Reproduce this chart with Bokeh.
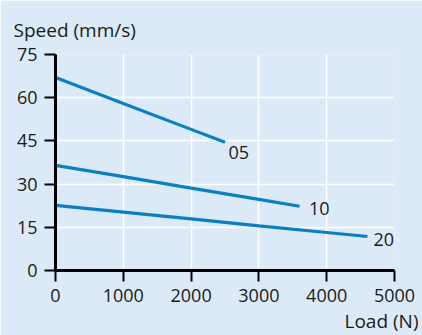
from bokeh.plotting import figure
from bokeh.models import FixedTicker, Range1d, ColumnDataSource, Title
from bokeh.core.properties import value
from bokeh.embed import file_html
from bokeh.resources import INLINE

# ---- data ----
load_05 = [0, 1000, 2000, 2500]
speed_05 = [67.0, 58.0, 49.0, 44.5]

load_10 = [0, 1000, 2000, 3000, 3600]
speed_10 = [36.5, 32.6, 28.6, 24.7, 22.3]

load_20 = [0, 1000, 2000, 3000, 4000, 4600]
speed_20 = [22.6, 20.3, 17.9, 15.5, 13.2, 11.8]

series_names = ["05", "10", "20"]
label_x = [2550, 3740, 4690]
label_y = [41.0, 21.7, 10.8]

x_ticks = [0, 1000, 2000, 3000, 4000, 5000]
y_ticks = [0, 15, 30, 45, 60, 75]

x_title = "Load (N)"
y_title = "Speed (mm/s)"

BG = "#DCEAF7"
LINE = "#0A80C2"
TXT = "#1a1a1a"
FONT = "Open Sans"

p = figure(width=422, height=335, output_backend="svg", toolbar_location=None,
           x_range=Range1d(0, 5000), y_range=Range1d(0, 75),
           min_border_left=55, min_border_right=28, min_border_top=54, min_border_bottom=65)
p.background_fill_color = BG
p.border_fill_color = BG
p.outline_line_color = None

for xs, ys in [(load_05, speed_05), (load_10, speed_10), (load_20, speed_20)]:
    p.line(xs, ys, line_color=LINE, line_width=3.2)

src = ColumnDataSource(dict(x=label_x, y=label_y, t=series_names))
p.text(x="x", y="y", text="t", source=src, text_font=value(FONT), text_font_size="18px",
       text_color=TXT, text_baseline="middle", text_align="left")

p.xaxis.ticker = FixedTicker(ticks=x_ticks)
p.yaxis.ticker = FixedTicker(ticks=y_ticks)
p.xaxis.minor_tick_line_color = None
p.yaxis.minor_tick_line_color = None

for ax in (p.xaxis, p.yaxis):
    ax.axis_line_color = "black"
    ax.axis_line_width = 3
    ax.major_tick_line_color = "black"
    ax.major_tick_line_width = 2
    ax.major_tick_in = 0
    ax.major_tick_out = 11
    ax.major_label_text_font = FONT
    ax.major_label_text_font_size = "18px"
    ax.major_label_text_color = TXT
    ax.major_label_standoff = 7

p.xgrid.grid_line_color = "white"
p.ygrid.grid_line_color = "white"
p.xgrid.grid_line_width = 1.5
p.ygrid.grid_line_width = 1.5

p.title.text = y_title
p.title.align = "left"
p.title.offset = -42
p.title.text_font = FONT
p.title.text_font_size = "19px"
p.title.text_font_style = "normal"
p.title.text_color = TXT
p.title.vertical_align = "top"
p.title.standoff = 20

p.add_layout(Title(text=x_title, align="right", offset=-24, text_font=FONT,
                   text_font_size="19px", text_font_style="normal", text_color=TXT,
                   standoff=3), "below")

html = file_html(p, INLINE)
html = html.replace("<body>", '<body style="background-color:%s">' % BG, 1)
open("out.html", "w").write(html)
